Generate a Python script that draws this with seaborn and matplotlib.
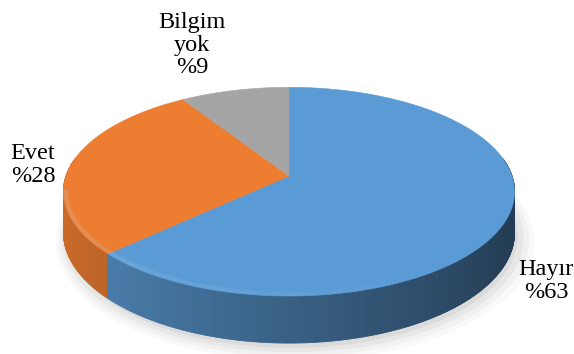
import numpy as np
import matplotlib
matplotlib.use("Agg")
import matplotlib.pyplot as plt
import seaborn as sns
from matplotlib.collections import PolyCollection, LineCollection
from matplotlib.patches import Polygon, Ellipse
import matplotlib.colors as mcolors

# ---- data ----
categories = ["Hayır", "Evet", "Bilgim yok"]
values = [63, 28, 9]
label_texts = ["Hayır\n%63", "Evet\n%28", "Bilgim\nyok\n%9"]
colors = ["#5B9BD5", "#ED7D31", "#A5A5A5"]

sns.set_style("white")
plt.rcParams['font.family'] = ['Liberation Serif', 'DejaVu Serif']

W, H = 574, 354
fig = plt.figure(figsize=(W / 100, H / 100), dpi=100)
ax = fig.add_axes([0, 0, 1, 1])

# let the library compute the wedge angles
wedges, _ = ax.pie(values, colors=colors, startangle=90, counterclock=False, radius=1)
angles = [(w.theta1, w.theta2) for w in wedges]
for w in wedges:
    w.remove()

# perspective projection of the unit disc to pixel space
cx, cy = 289, 176      # apex of the pie (pixels)
A, B = 223, 102        # horizontal / vertical scale
k = 0.15               # perspective strength
D = 40                 # side depth (pixels, before perspective)


def proj(t_deg, r=1.0, drop=0.0):
    t = np.radians(t_deg)
    x, y = r * np.cos(t), r * np.sin(t)
    s = 1.0 / (1.0 + k * y)
    return cx + A * x * s, cy - B * y * s + drop * s


# soft shadow
for s_, al, dx, dy in [(1.06, 0.04, 6, 10), (1.04, 0.06, 5, 8), (1.02, 0.08, 4, 6), (1.0, 0.10, 3, 4)]:
    ax.add_patch(Ellipse((cx + dx, 232 + dy), 2 * 226 * s_, 2 * 112 * s_,
                         facecolor="#7a7a7a", edgecolor="none", alpha=al, zorder=0))

# side walls
strips = []
for (a0, a1), col in zip(angles, colors):
    base = np.array(mcolors.to_rgb(col))
    for kk in (-1, 0, 1):
        lo = max(a0 + 360 * kk, 170)
        hi = min(a1 + 360 * kk, 370)
        if hi <= lo:
            continue
        ts = np.linspace(lo, hi, max(2, int((hi - lo) / 0.5) + 1))
        for t0, t1 in zip(ts[:-1], ts[1:]):
            p0, p1 = proj(t0), proj(t1)
            q1, q0 = proj(t1, drop=D), proj(t0, drop=D)
            tm = np.radians(0.5 * (t0 + t1))
            c = np.cos(tm)
            f = 0.86 - 0.48 * (c + 1) / 2
            strips.append((np.sin(tm), [p0, p1, q1, q0], np.clip(base * f, 0, 1)))
strips.sort(key=lambda s: -s[0])
pc = PolyCollection([s[1] for s in strips], facecolors=[s[2] for s in strips],
                    edgecolors=[s[2] for s in strips], linewidths=0.6, zorder=1)
ax.add_collection(pc)

# top face
for (a0, a1), col in zip(angles, colors):
    ts = np.linspace(a0, a1, max(2, int((a1 - a0) / 0.5) + 1))
    pts = [(cx, cy)] + [proj(t) for t in ts]
    ax.add_patch(Polygon(pts, closed=True, facecolor=col, edgecolor=col,
                         linewidth=0.4, zorder=2))

# soft bevel highlight along the front rim
ts = np.linspace(188, 352, 240)
for lw, amax in [(4.0, 0.10), (2.0, 0.14)]:
    segs, cols = [], []
    for t0, t1 in zip(ts[:-1], ts[1:]):
        segs.append([proj(t0, r=0.99, drop=-0.5), proj(t1, r=0.99, drop=-0.5)])
        tm = 0.5 * (t0 + t1)
        al = amax * max(0.0, 1 - (tm - 188) / 120)
        cols.append((0.78, 0.9, 1.0, al))
    ax.add_collection(LineCollection(segs, colors=cols, linewidths=lw, zorder=3))

ax.set_aspect("auto")
ax.set_xlim(0, W)
ax.set_ylim(H, 0)
ax.axis("off")

# labels (pixel centres)
label_pos = [(546, 281), (33, 165), (192, 45)]
for txt, (px, py) in zip(label_texts, label_pos):
    fig.text(px / W, 1 - py / H, txt, ha="center", va="center", fontsize=17.5,
             color="black", linespacing=1.12)

fig.savefig("out.png", dpi=100, facecolor="white")
